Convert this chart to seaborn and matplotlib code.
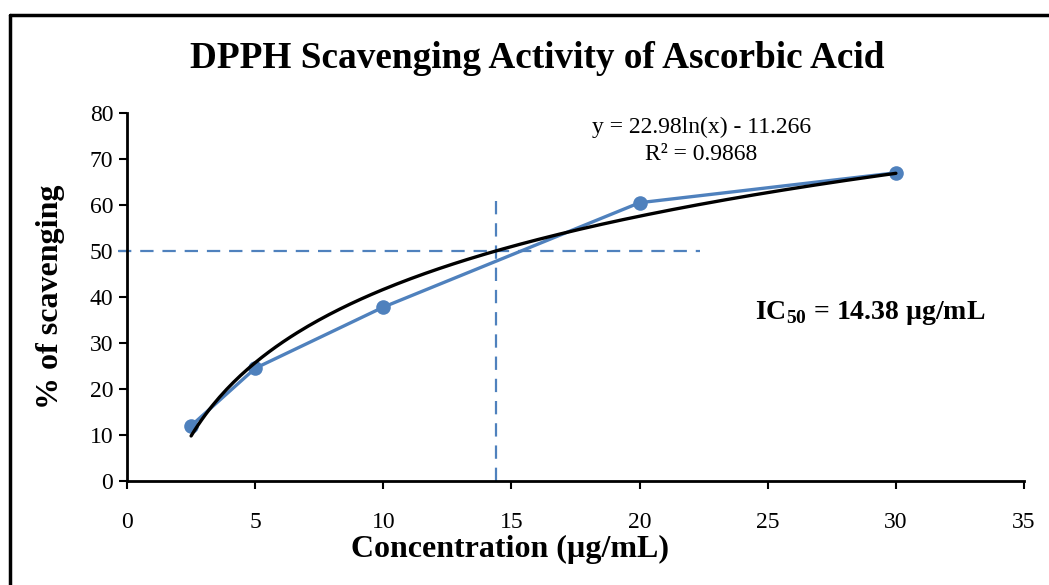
import numpy as np
import pandas as pd
import matplotlib
matplotlib.use("Agg")
import matplotlib.pyplot as plt
import seaborn as sns
from matplotlib.lines import Line2D

# data
concentration = [2.5, 5, 10, 20, 30]
scavenging = [12.0, 24.5, 37.8, 60.5, 67.0]

# log trendline reported on the chart: y = a*ln(x) + b
fit_a = 22.98
fit_b = -11.266
r_squared = 0.9868
ic50 = 14.38

x_ticks = [0, 5, 10, 15, 20, 25, 30, 35]
y_ticks = [0, 10, 20, 30, 40, 50, 60, 70, 80]

blue = "#4F81BD"

sns.set_style("white")
plt.rcParams["font.family"] = ["Liberation Serif", "DejaVu Serif"]
plt.rcParams["mathtext.fontset"] = "custom"
plt.rcParams["mathtext.rm"] = "Liberation Serif"
plt.rcParams["mathtext.bf"] = "Liberation Serif:bold"
plt.rcParams["text.color"] = "black"
plt.rcParams["axes.labelcolor"] = "black"

fig = plt.figure(figsize=(10.49, 5.85), dpi=100)
ax = fig.add_axes([0.1211, 0.1778, 0.8551, 0.629])

df = pd.DataFrame({"conc": concentration, "scav": scavenging})
sns.lineplot(data=df, x="conc", y="scav", ax=ax, color=blue, lw=2.4,
             marker="o", markersize=10.5, markeredgewidth=0, zorder=3)

# trendline
xs = np.linspace(min(concentration), max(concentration), 200)
trend = pd.DataFrame({"x": xs, "y": fit_a * np.log(xs) + fit_b})
sns.lineplot(data=trend, x="x", y="y", ax=ax, color="black", lw=2.4, zorder=4)

# IC50 guide lines
ax.plot([-0.35, 22.35], [50, 50], color=blue, lw=1.6, ls=(0, (6, 4)),
        clip_on=False, zorder=2)
ax.plot([ic50, ic50], [0, 61], color=blue, lw=1.6, ls=(0, (6, 4)), zorder=2)

ax.set_xlim(0, 35)
ax.set_ylim(0, 80)
ax.set_xticks(x_ticks)
ax.set_yticks(y_ticks)
ax.tick_params(axis="both", direction="out", length=6, width=1.5,
               labelsize=17, colors="black", pad=4, bottom=True, left=True)
ax.tick_params(axis="x", pad=16)
for side in ["top", "right"]:
    ax.spines[side].set_visible(False)
for side in ["left", "bottom"]:
    ax.spines[side].set_linewidth(2)
    ax.spines[side].set_color("black")

ax.set_xlabel("Concentration (µg/mL)", fontsize=23, fontweight="bold", va="center")
ax.xaxis.set_label_coords(0.427, -0.185)
ax.set_ylabel("% of scavenging", fontsize=23, fontweight="bold", labelpad=18)

fig.text(0.512, 0.9, "DPPH Scavenging Activity of Ascorbic Acid",
         ha="center", va="center", fontsize=26.8, fontweight="bold")

ax.text(22.4, 73.9, "y = 22.98ln(x) - 11.266\nR² = 0.9868", ha="center",
        va="center", fontsize=17, linespacing=1.35)
ax.text(29.0, 36.5, "IC$_{\\mathbf{50}}$ = 14.38 µg/mL", ha="center", va="center",
        fontsize=20, fontweight="bold")

# outer frame (only left and top edges visible)
fig.add_artist(Line2D([0.0095, 0.0095], [0, 0.975], color="black", lw=2.5,
                      transform=fig.transFigure))
fig.add_artist(Line2D([0.0095, 1.0], [0.975, 0.975], color="black", lw=2.5,
                      transform=fig.transFigure))

fig.savefig("out.png", dpi=100, facecolor="white")
